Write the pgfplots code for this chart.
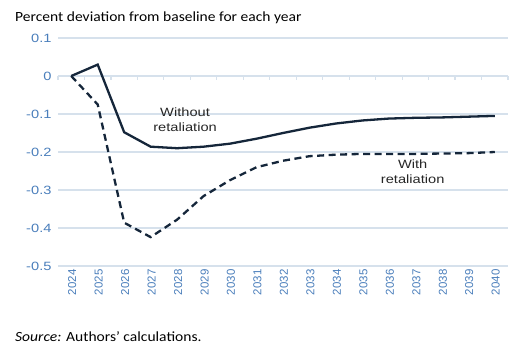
\documentclass[border=0pt]{standalone}
\usepackage{pgfplots}
\pgfplotsset{compat=1.18}
\usepackage{fontspec}
\setmainfont{Liberation Sans}
\newfontfamily\arialx[FakeStretch=1.22]{Liberation Sans}
\newfontfamily\calx[FakeStretch=1.11]{Carlito}
\definecolor{tickblue}{HTML}{4A7EBB}
\definecolor{gridc}{HTML}{D6E1EC}
\definecolor{navy}{HTML}{15263A}
\begin{document}
\begin{tikzpicture}[x=1pt,y=1pt]
\useasboundingbox (0,0) rectangle (529,360);
\begin{axis}[
  at={(58pt,94pt)}, anchor=south west,
  scale only axis, width=450pt, height=228pt,
  xmin=2023.5, xmax=2040.5, ymin=-0.5, ymax=0.1,
  axis line style={draw=none},
  major tick length=0pt,
  xtick={2024,...,2040},
  ytick={-0.5,-0.4,...,0.1},
  yticklabels={-0.5,-0.4,-0.3,-0.2,-0.1,0,0.1},
  ymajorgrids, grid style={gridc, line width=1.2pt},
  xticklabel style={rotate=90, anchor=east, font=\fontsize{11.5}{12}\selectfont, text=tickblue, yshift=-1pt},
  yticklabel style={font=\arialx\fontsize{12}{13}\selectfont, text=tickblue, xshift=-3pt},
  /pgf/number format/assume math mode=true,
  xticklabel={\pgfmathprintnumber[1000 sep={}]{\tick}},
  clip=false,
]
\addplot[ycomb, gridc, line width=1.2pt, mark=none] coordinates {
(2023.5,-0.011)(2024.5,-0.011)(2025.5,-0.011)(2026.5,-0.011)(2027.5,-0.011)(2028.5,-0.011)
(2029.5,-0.011)(2030.5,-0.011)(2031.5,-0.011)(2032.5,-0.011)(2033.5,-0.011)(2034.5,-0.011)
(2035.5,-0.011)(2036.5,-0.011)(2037.5,-0.011)(2038.5,-0.011)(2039.5,-0.011)(2040.5,-0.011)};
\addplot[navy, line width=2.3pt, mark=none] coordinates {
(2024,0)(2025,0.03)(2026,-0.148)(2027,-0.186)(2028,-0.19)(2029,-0.186)(2030,-0.178)
(2031,-0.165)(2032,-0.15)(2033,-0.136)(2034,-0.125)(2035,-0.117)(2036,-0.112)
(2037,-0.11)(2038,-0.109)(2039,-0.107)(2040,-0.105)};
\addplot[navy, line width=2.3pt, mark=none, dash pattern=on 7pt off 4.5pt] coordinates {
(2024,0)(2025,-0.075)(2026,-0.386)(2027,-0.424)(2028,-0.378)(2029,-0.316)(2030,-0.274)
(2031,-0.24)(2032,-0.223)(2033,-0.211)(2034,-0.207)(2035,-0.205)(2036,-0.205)
(2037,-0.205)(2038,-0.204)(2039,-0.203)(2040,-0.2)};
\node[align=center, font=\arialx\fontsize{12}{15}\selectfont, text=black!85] at (axis cs:2028.3,-0.114) {Without\\retaliation};
\node[align=center, font=\arialx\fontsize{12}{15}\selectfont, text=black!85] at (axis cs:2036.9,-0.252) {With\\retaliation};
\end{axis}
\node[anchor=base west, font=\calx\fontsize{14}{16}\selectfont, inner sep=0pt] at (15,338.5) {Percent deviation from baseline for each year};
\node[anchor=base west, font=\calx\fontsize{14}{16}\selectfont, inner sep=0pt] at (15,19) {\textit{Source:} Authors’ calculations.};
\end{tikzpicture}
\end{document}
